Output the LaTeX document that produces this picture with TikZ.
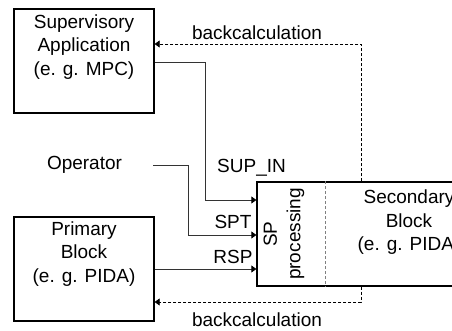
\documentclass[tikz,border=0pt]{standalone}
\usepackage{fontspec}
\setmainfont{Liberation Sans}
\usetikzlibrary{arrows.meta}

\tikzstyle{block} = [rectangle, draw=black, line width=1.3pt, inner sep=0pt]
\tikzstyle{txt} = [align=center, inner sep=0pt, font=\fontsize{19}{23.5}\selectfont]
\tikzstyle{sig} = [draw=black!80, line width=0.8pt, -{Triangle[length=5pt,width=7pt,color=black]}]
\tikzstyle{back} = [draw=black, line width=0.8pt, dash pattern=on 3pt off 2pt, -{Triangle[length=5pt,width=7pt]}]
\tikzstyle{divider} = [draw=black!50, line width=0.8pt, dash pattern=on 3pt off 2pt]

\begin{document}
\begin{tikzpicture}[x=1pt, y=-1pt]
  \useasboundingbox (0,0) rectangle (452,331);
  \clip (0,0) rectangle (452,331);

  \node (sup) [block, minimum width=140pt, minimum height=104pt] at (84,61) {};
  \node (suptxt) [txt, anchor=north] at ([yshift=-6pt]sup.north) {Supervisory\\Application\\(e. g. MPC)};
  \node (prim) [block, minimum width=140pt, minimum height=104pt] at (84,269) {};
  \node (primtxt) [txt, anchor=north] at ([yshift=-5pt]prim.north) {Primary\\Block\\(e. g. PIDA)};
  \node (sp) [block, minimum width=223pt, minimum height=104pt] at (368.5,234) {};
  \node (sptxt) [txt, rotate=90] at (284,234) {SP\\processing};
  \node (sectxt) [txt, anchor=north] at (409,190) {Secondary\\Block\\(e. g. PIDA)};
  \node (op) [txt] at (84.5,165) {Operator};
  \coordinate (opout) at (153,165);

  \node (supin) [txt, anchor=west] at (217,168) {SUP\_IN};
  \node (spt) [txt] at (233,222) {SPT};
  \node (rsp) [txt] at (233,257) {RSP};
  \node (bctop) [txt] at (257,33) {backcalculation};
  \node (bcbot) [txt] at (257,320) {backcalculation};

  \draw [divider] ([xshift=69pt]sp.north west) -- ([xshift=69pt]sp.south west);

  \draw [sig] (sup.east |- 0,62) -| (205,200) -- (sp.west |- 0,200);
  \draw [sig] (opout) -| (188,235) -- (sp.west |- 0,235);
  \draw [sig] (prim.east |- 0,269) -- (sp.west |- 0,269);
  \draw [back] (sp.north -| 361,0) |- (sup.east |- 0,44);
  \draw [back] (sp.south -| 361,0) |- (prim.east |- 0,302);
\end{tikzpicture}
\end{document}
